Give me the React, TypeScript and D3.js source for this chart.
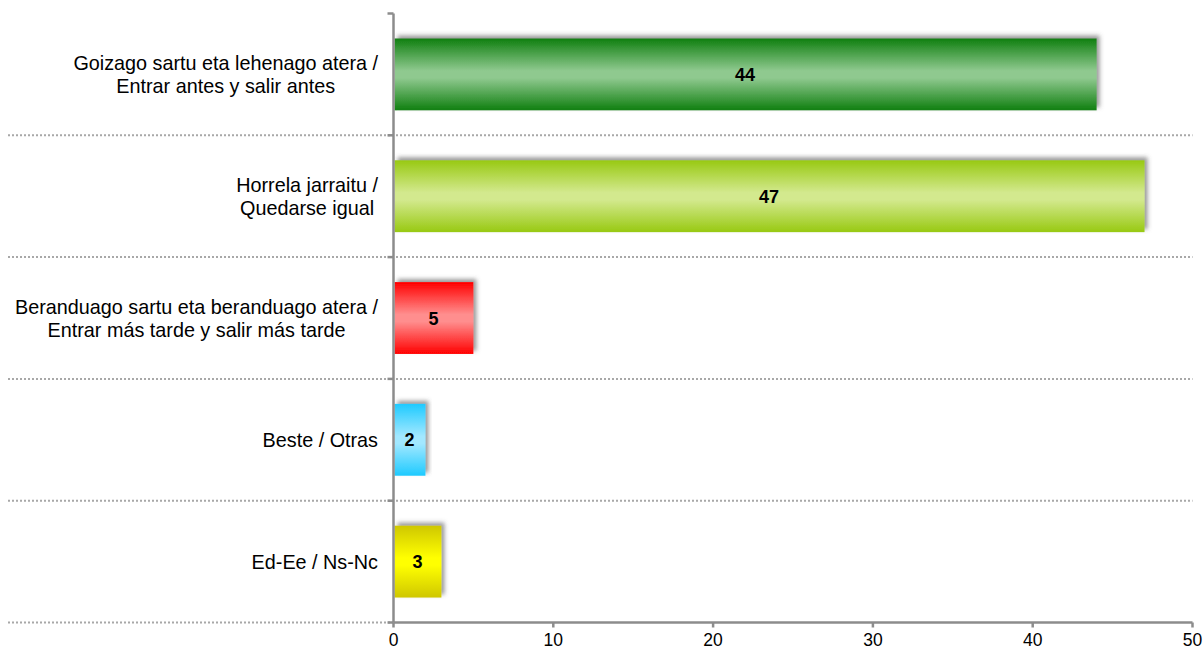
import React, { useMemo } from "react";
import * as d3 from "d3";

const categoryLines: string[][] = [
  ["Goizago sartu eta lehenago atera /", "Entrar antes y salir antes"],
  ["Horrela jarraitu /", "Quedarse igual"],
  ["Beranduago sartu eta beranduago atera /", "Entrar más tarde y salir más tarde"],
  ["Beste / Otras"],
  ["Ed-Ee / Ns-Nc"],
];
const values: number[] = [44, 47, 5, 2, 3];
const edgeColors: string[] = ["#107f10", "#98c912", "#ff0000", "#1ecaff", "#cfc700"];
const centerColors: string[] = ["#8fc98f", "#d3e98e", "#ff8e8e", "#a2e8ff", "#ffff00"];
const xTicks: number[] = [0, 10, 20, 30, 40, 50];

const W = 1204;
const H = 650;
const left = 393.5;
const right = 1192.5;
const top = 13.5;
const bottom = 622.5;
const labelFont = "19.8px 'Liberation Sans', Arial, sans-serif";
const labelRight = 378;

export default function App() {
  const x = d3.scaleLinear().domain([0, 50]).range([left, right]);
  const ids = categoryLines.map((_, i) => String(i));
  const y = d3.scaleBand<string>().domain(ids).range([top, bottom]).paddingInner(0.41).paddingOuter(0.205);
  const band = d3.scaleBand<string>().domain(ids).range([top, bottom]);

  const widths = useMemo(() => {
    const c = document.createElement("canvas").getContext("2d")!;
    c.font = labelFont;
    return categoryLines.map((ls) => ls.map((l) => c.measureText(l).width));
  }, []);

  const boundaries = ids.map((id) => (band(id) as number) + band.bandwidth());
  const yTickPos = [top, ...boundaries];

  return (
    <svg width={W} height={H} style={{ position: "absolute", left: 0, top: 0, background: "#fff" }}>
      <defs>
        {values.map((_, i) => (
          <linearGradient key={i} id={`g${i}`} x1="0" y1="0" x2="0" y2="1">
            <stop offset="0" stopColor={edgeColors[i]} />
            <stop offset="0.45" stopColor={centerColors[i]} />
            <stop offset="0.55" stopColor={centerColors[i]} />
            <stop offset="1" stopColor={edgeColors[i]} />
          </linearGradient>
        ))}
        <filter id="sh" x="-20%" y="-30%" width="140%" height="160%">
          <feDropShadow dx="3" dy="-3" stdDeviation="2" floodColor="#555" floodOpacity="0.6" />
        </filter>
      </defs>

      {boundaries.map((b, i) => (
        <line key={i} x1={8} x2={i === boundaries.length - 1 ? left : right} y1={b} y2={b}
          stroke="#a8a8a8" strokeWidth={2} strokeDasharray="2 2" />
      ))}

      {values.map((v, i) => (
        <rect key={i} x={x(0) + 1} y={y(ids[i])} width={x(v) - x(0) - 1} height={y.bandwidth()}
          fill={`url(#g${i})`} filter="url(#sh)" />
      ))}

      {values.map((v, i) => (
        <text key={i} x={(x(0) + x(v)) / 2} y={(y(ids[i]) as number) + y.bandwidth() / 2 + 6.5}
          textAnchor="middle" fontFamily="'Liberation Sans', Arial, sans-serif" fontSize={18} fontWeight="bold" fill="#000">
          {v}
        </text>
      ))}

      <line x1={left} x2={left} y1={top} y2={bottom} stroke="#8c8c8c" strokeWidth={2.5} />
      {yTickPos.map((t, i) => (
        <line key={i} x1={left - 6} x2={left} y1={t} y2={t} stroke="#8c8c8c" strokeWidth={2.5} />
      ))}

      <line x1={left} x2={right} y1={bottom} y2={bottom} stroke="#8c8c8c" strokeWidth={2.5} />
      {xTicks.map((t) => (
        <g key={t}>
          <line x1={x(t)} x2={x(t)} y1={bottom} y2={bottom + 5} stroke="#8c8c8c" strokeWidth={2.5} />
          <text x={x(t)} y={646} textAnchor="middle" fontFamily="'Liberation Sans', Arial, sans-serif" fontSize={17.5} fill="#000">
            {t}
          </text>
        </g>
      ))}

      {categoryLines.map((ls, i) => {
        const maxW = Math.max(...widths[i]);
        const cx = labelRight - maxW / 2;
        const c = (band(ids[i]) as number) + band.bandwidth() / 2;
        const lh = 23;
        const firstBase = c + 7 - ((ls.length - 1) * lh) / 2;
        return (
          <text key={i} fontFamily="'Liberation Sans', Arial, sans-serif" fontSize={19.8} fill="#000" textAnchor="middle">
            {ls.map((l, j) => (
              <tspan key={j} x={cx} y={firstBase + j * lh}>{l}</tspan>
            ))}
          </text>
        );
      })}
    </svg>
  );
}
